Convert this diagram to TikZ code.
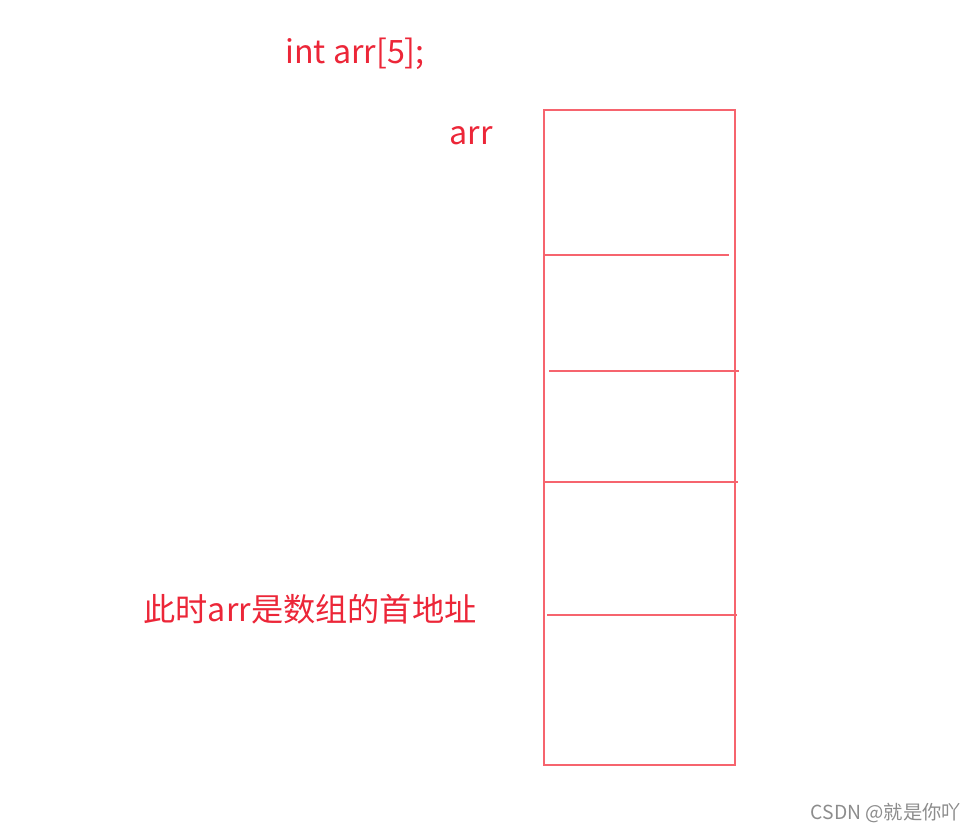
\documentclass[tikz,border=0pt]{standalone}
\usepackage{fontspec}
\setmainfont{Noto Sans CJK SC}
\usepackage{xcolor}
\usetikzlibrary{positioning}
\definecolor{textred}{RGB}{236,38,56}
\definecolor{linered}{RGB}{246,100,110}
\definecolor{markgray}{RGB}{140,140,140}

\begin{document}
\begin{tikzpicture}[x=0.03cm,y=-0.03cm,
redtext/.style={text=textred, inner sep=0pt, font=\fontsize{27.5pt}{32pt}\selectfont},
cnnote/.style={text=textred, inner sep=0pt, font=\fontsize{27.5pt}{32pt}\selectfont},
cellline/.style={draw=linered, line width=1.5pt},
watermark/.style={text=markgray, inner sep=0pt, font=\fontsize{16.5pt}{20pt}\selectfont},
]
\useasboundingbox (0,0) rectangle (976,831);

%Nodes
\node[redtext]   (decl)  at (355,54)  {int arr[5];};
\node[redtext]   (name)  at (471,136) {arr};
\node[cnnote]    (note)  at (310,609) {此时arr是数组的首地址};
\node[watermark] (mark)  at (886,813) {CSDN @就是你吖};

%Lines
\draw[cellline] (544,110) rectangle (735,765);
\draw[cellline] (545,255) -- (729,255);
\draw[cellline] (549,371) -- (739,371);
\draw[cellline] (545,482) -- (738,482);
\draw[cellline] (547,615) -- (737,615);
\end{tikzpicture}
\end{document}
